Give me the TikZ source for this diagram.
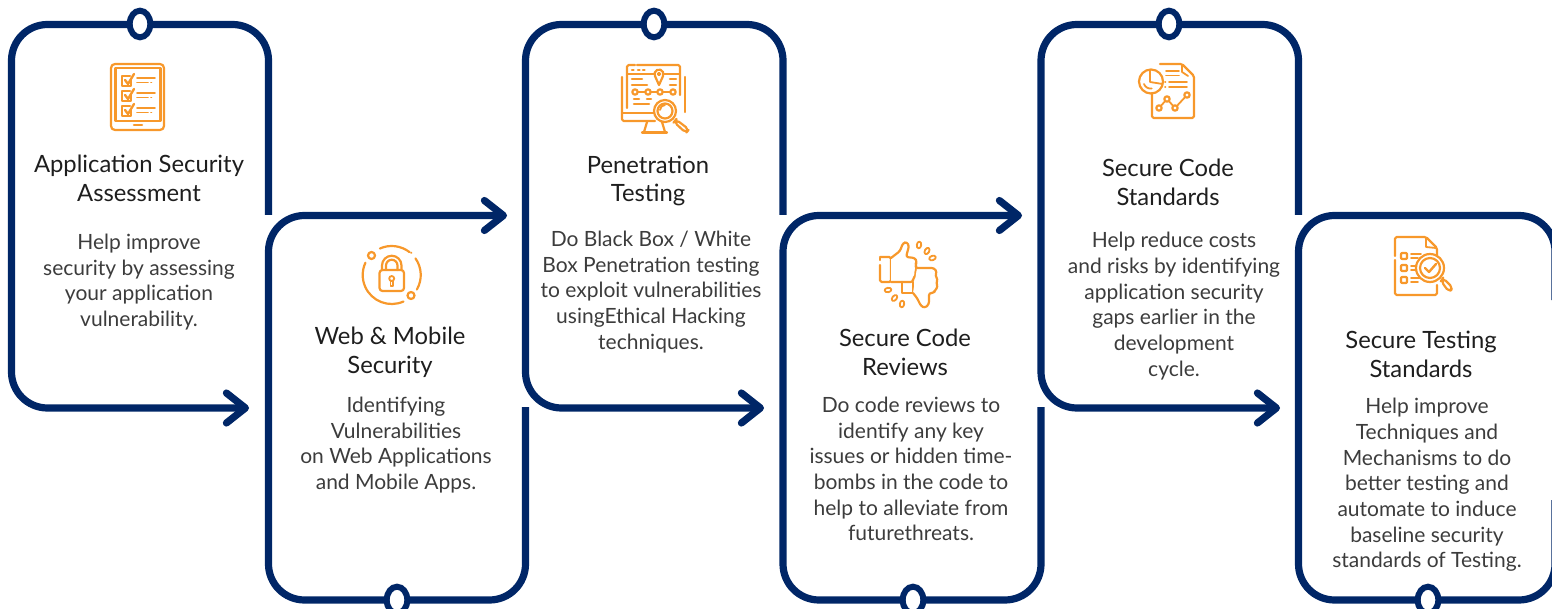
\documentclass[tikz,border=0pt]{standalone}
\usepackage{fontspec}
\setmainfont{Lato}
\usetikzlibrary{positioning,arrows.meta,shapes.geometric}
\definecolor{framenavy}{HTML}{002667}
\definecolor{iconorange}{HTML}{F7982B}
\definecolor{titleink}{HTML}{1E1E1E}
\definecolor{bodyink}{HTML}{3C3C3C}
\tikzset{
    cardline/.style={draw=framenavy,line width=3.6pt,rounded corners=18pt},
    cardarrow/.style={cardline,-{Straight Barb[round,length=9.5pt,width=15pt]}},
    knot/.style={draw=framenavy,line width=3pt,fill=white,ellipse,minimum width=10.3pt,minimum height=13.3pt,inner sep=0pt,outer sep=0pt},
    cardtitle/.style={align=center,text=titleink,font=\fontsize{11.9}{14.4}\selectfont,inner sep=0pt},
    cardbody/.style={align=center,text=bodyink,font=\fontsize{10.5}{12.85}\selectfont,inner sep=0pt},
    icon/.style={draw=iconorange,line width=1.1pt,line cap=round,line join=round,rounded corners=0.8pt},
    iconthin/.style={draw=iconorange,line width=0.9pt,line cap=round,line join=round},
    iconbar/.style={draw=iconorange,line width=1.3pt,line cap=round}
}
\begin{document}
\begin{tikzpicture}[x=0.5pt,y=-0.5pt]
    \useasboundingbox (0,0) rectangle (1552,609);

    \draw[cardarrow] (268.5,215) -- (268.5,24.5) -- (11.5,24.5) -- (11.5,408) -- (249,408);
    \draw[cardarrow] (525.5,407) -- (525.5,600) -- (268.5,600) -- (268.5,215.5) -- (507,215.5);
    \draw[cardarrow] (783,215) -- (783,24.5) -- (525.5,24.5) -- (525.5,408) -- (764,408);
    \draw[cardarrow] (1041,407) -- (1041,600) -- (783,600) -- (783,215.5) -- (1022,215.5);
    \draw[cardarrow] (1298.5,215) -- (1298.5,24.5) -- (1041,24.5) -- (1041,408) -- (1280,408);
    \draw[cardline] (1555,300) -- (1555,215.5) -- (1298.5,215.5) -- (1298.5,600) -- (1555,600) -- (1555,500);

    \node[knot] (knota) at (140,24) {};
    \node[knot] (knotb) at (397,600) {};
    \node[knot] (knotc) at (654,24) {};
    \node[knot] (knotd) at (913,600) {};
    \node[knot] (knote) at (1169,24) {};
    \node[knot] (knotf) at (1428,600) {};

    \node[cardtitle] (titlea) at (139,178.5) {Application Security\\Assessment};
    \node[cardtitle] (titleb) at (390,352.5) {Web \& Mobile\\Security};
    \node[cardtitle] (titlec) at (648,181) {Penetration\\Testing};
    \node[cardtitle] (titled) at (905,352.5) {Secure Code\\Reviews};
    \node[cardtitle] (titlee) at (1168,182) {Secure Code\\Standards};
    \node[cardtitle] (titlef) at (1421,354) {Secure Testing\\Standards};

    \node[cardbody] (bodya) at (139,282) {Help improve\\security by assessing\\your application\\vulnerability.};
    \node[cardbody] (bodyb) at (396,445) {Identifying\\Vulnerabilities\\on Web Applications\\and Mobile Apps.};
    \node[cardbody] (bodyc) at (651,292) {Do Black Box / White\\Box Penetration testing\\to exploit vulnerabilities\\usingEthical Hacking\\techniques.};
    \node[cardbody] (bodyd) at (911,469) {Do code reviews to\\identify any key\\issues or hidden time-\\bombs in the code to\\help to alleviate from\\futurethreats.};
    \node[cardbody] (bodye) at (1174,306) {Help reduce costs\\and risks by identifying\\application security\\gaps earlier in the\\development\\cycle.};
    \node[cardbody] (bodyf) at (1427,485) {Help improve\\Techniques and\\Mechanisms to do\\better testing and\\automate to induce\\baseline security\\standards of Testing.};

    \draw[icon,rounded corners=2pt] (111,64) rectangle (164,130);
    \draw[icon,rounded corners=0pt] (115.5,68) rectangle (160.5,121);
    \draw[iconbar] (134,125) -- (142,125);
    \foreach \ya in {0,15,30} {
        \draw[icon,rounded corners=0pt] (131,80+\ya) -- (131,86+\ya) -- (122,86+\ya) -- (122,76+\ya) -- (130,76+\ya);
        \draw[iconthin,line width=1.2pt] (125,80+\ya) -- (128,84+\ya) -- (134,74+\ya);
        \draw[iconthin] (137,78+\ya) -- (155,78+\ya);
        \draw[iconthin] (137,82.5+\ya) -- (148,82.5+\ya);
        \draw[iconthin] (151,82.5+\ya) -- (151.5,82.5+\ya);
    }

    \draw[icon] (379.9,248.5) arc (-114:-52:29);
    \draw[icon] (415.5,258.4) arc (-35:30:29);
    \draw[icon] (403.5,301.5) arc (66:205:29);
    \draw[iconthin,line width=1pt] (411,252.5) -- (411.5,253);
    \draw[icon] (371.5,255.5) circle (3.5);
    \draw[icon] (411,295.5) circle (3.5);
    \draw[icon,rounded corners=1.5pt] (379.5,270) rectangle (404,291);
    \draw[icon,rounded corners=0pt] (382,270) -- (382,265.5) arc (180:360:9.75) -- (401.5,270);
    \draw[icon,rounded corners=0pt] (386,270) -- (386,265.5) arc (180:360:5.75) -- (397.5,270);
    \draw[iconthin] (391.7,278.5) circle (2.5);
    \draw[iconthin] (390.5,281) -- (390.5,286) -- (393,286) -- (393,281);

    \draw[icon] (622,77) -- (622,121) -- (655,121);
    \draw[icon] (685,77) -- (685,112);
    \draw[icon] (622,113) -- (654,113);
    \draw[icon] (647,122) -- (644,132);
    \draw[icon] (662,122) -- (665,132);
    \draw[icon] (642,132.5) -- (667,132.5);
    \draw[icon] (627,108) -- (627,65) -- (635,65);
    \draw[icon] (637,65) -- (680,65) -- (680,95);
    \draw[iconthin] (628,74) -- (654,74);
    \draw[iconthin] (664,74) -- (679,74);
    \draw[icon,rounded corners=0pt] (659,85) -- (654.96,76) arc (-206:26:4.5) -- cycle;
    \draw[iconthin] (659,74) circle (1.3);
    \foreach \xa in {632,638,643} {
        \draw[iconbar] (\xa,70) -- (\xa+1.5,70);
    }
    \draw[iconbar] (632,79) -- (642,79);
    \draw[iconbar] (632,85) -- (647,85);
    \draw[iconbar] (670,79) -- (676,79);
    \draw[iconbar] (670,85) -- (676,85);
    \draw[iconthin] (638,92) -- (670,92);
    \foreach \xa in {635,648,660,673} {
        \draw[icon,fill=white] (\xa,92) circle (2.7);
    }
    \draw[iconbar] (634,99) -- (639,99);
    \draw[iconbar] (647,99) -- (651,99);
    \draw[iconbar] (634,104) -- (649,104);
    \draw[icon,fill=white] (665,111) circle (11);
    \draw[icon] (665,111) circle (7.5);
    \draw[iconthin] (660,110) arc (180:270:5);
    \draw[icon,fill=white,rounded corners=2pt] (674,122) -- (676,119.5) -- (689,129.5) -- (686,133) -- cycle;

    \draw[icon] (880,258) -- (880,260);
    \draw[icon] (880,265) -- (880,282) -- (891,282) -- (891,257) -- (880,257);
    \draw[icon,fill=white,rounded corners=1.2pt] (891,258) -- (900,251) -- (903,243) -- (907,242) -- (909,246) -- (906,257) -- (915,258) -- (917,262) -- (915,265) -- (917,268) -- (915,272) -- (916,276) -- (913,278) -- (913,282) -- (891,282);
    \draw[icon,rounded corners=0pt] (902,282) -- (902,293) -- (913,293) -- (913,282);
    \draw[icon,fill=white,rounded corners=1.2pt] (917,268) -- (934,268) -- (937,272) -- (935,276) -- (938,279) -- (936,283) -- (938,287) -- (935,290) -- (934,293) -- (929,293) -- (929,304) -- (925,308) -- (921,306) -- (917,298) -- (913,293);
    \foreach \xa/\ya/\ra in {919/245/80,927/251/60,932.5/258/20,888/290/10,894.5/298/50,902/304/80} {
        \draw[iconthin,rotate around={\ra:(\xa,\ya)}] (\xa,\ya) ellipse (3.4 and 2.2);
    }

    \draw[icon] (1160,64) -- (1182,64) -- (1194,76) -- (1194,118) -- (1152,118) -- (1152,93);
    \draw[iconthin] (1182,65) -- (1182,72) -- (1188,76);
    \draw[icon] (1151,81.5) circle (12);
    \draw[iconthin] (1150,70) -- (1150,82) -- (1162.5,84);
    \draw[iconthin] (1144,84) arc (160:80:7);
    \draw[iconthin] (1166,71) -- (1179,71);
    \draw[iconthin] (1166,75.5) -- (1179,75.5);
    \draw[iconthin] (1165,82) -- (1165.5,82);
    \draw[iconthin] (1165,87) -- (1165.5,87);
    \draw[iconthin] (1169,82) -- (1187,82);
    \draw[iconthin] (1169,87) -- (1187,87);
    \draw[iconthin] (1159,108) -- (1167,99) -- (1175,108) -- (1187,95);
    \foreach \xa/\ya in {1159/108,1167/99,1175/108,1187/95} {
        \draw[icon,fill=white] (\xa,\ya) circle (2.7);
    }

    \draw[icon] (1395,256) -- (1395,237) -- (1426,237) -- (1437,248) -- (1437,256);
    \draw[icon] (1395,260) -- (1395,295) -- (1437,295) -- (1437,285);
    \draw[iconthin] (1426,238) -- (1426,247) -- (1436,248);
    \foreach \ya in {253,265,277} {
        \draw[icon,rounded corners=0.5pt] (1401,\ya) rectangle (1407,\ya+6);
        \draw[iconthin] (1411,\ya+1) -- (1421,\ya+1);
        \draw[iconthin] (1411,\ya+5) -- (1418,\ya+5);
    }
    \draw[icon,fill=white] (1430,268) circle (14);
    \draw[icon] (1430,268) circle (10);
    \draw[iconthin,line width=1.2pt] (1425,268) -- (1429,272) -- (1436,264);
    \draw[icon,fill=white,rounded corners=2pt] (1441,281) -- (1443,278) -- (1453,288) -- (1449,292) -- cycle;
\end{tikzpicture}
\end{document}
